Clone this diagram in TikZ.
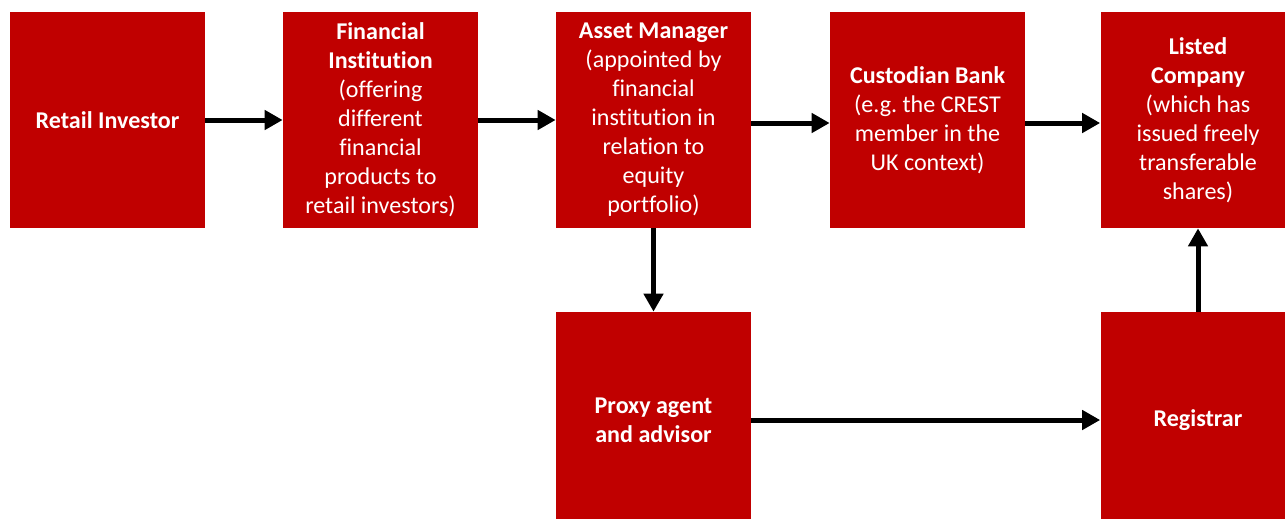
\documentclass[tikz,border=0pt]{standalone}
\usepackage{fontspec}
\setmainfont{Carlito}[Ligatures=NoCommon]
\usetikzlibrary{arrows.meta}
\definecolor{boxred}{HTML}{C00000}
\frenchspacing
\begin{document}
\begin{tikzpicture}[
		block/.style={fill=boxred, text=white, align=center, inner sep=0pt, minimum width=3.90cm, minimum height=4.32cm, font=\fontsize{13.7}{16.5}\selectfont},
		flow/.style={draw=black, line width=0.10cm, -{Triangle[length=0.36cm, width=0.38cm]}}]
		\clip (0.00,0.00) rectangle (25.70,-10.36);
		\node[block] (investor) at (2.15,-2.40) {\textbf{Retail Investor}};
		\node[block] (fininst) at (7.61,-2.40) {\textbf{Financial}\\\textbf{Institution}\\(offering\\different\\financial\\products to\\retail investors)};
		\node[block] (manager) at (13.07,-2.40) {\textbf{Asset Manager}\\(appointed by\\financial\\institution in\\relation to\\equity\\portfolio)};
		\node[block] (custodian) at (18.55,-2.40) {\textbf{Custodian Bank}\\(e.g. the CREST\\member in the\\UK context)};
		\node[block] (listed) at (23.96,-2.40) {\textbf{Listed}\\\textbf{Company}\\(which has\\issued freely\\transferable\\shares)};
		\node[block] (proxy) at (13.07,-8.40) {\textbf{Proxy agent}\\\textbf{and advisor}};
		\node[block] (registrar) at (23.96,-8.40) {\textbf{Registrar}};
		\draw[flow] (investor.east) -- (fininst.west);
		\draw[flow] (fininst.east) -- (manager.west);
		\draw[flow] ([yshift=-0.06cm]manager.east) -- ([yshift=-0.06cm]custodian.west);
		\draw[flow] ([yshift=-0.06cm]custodian.east) -- ([yshift=-0.06cm]listed.west);
		\draw[flow] (manager.south) -- (proxy.north);
		\draw[flow] (proxy.east) -- (registrar.west);
		\draw[flow] (registrar.north) -- (listed.south);
	\end{tikzpicture}
\end{document}
